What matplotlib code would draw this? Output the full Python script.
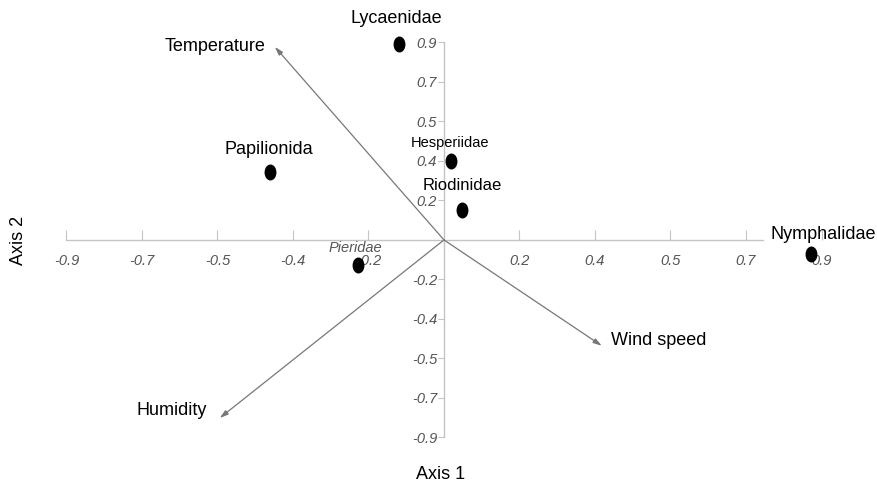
import matplotlib.pyplot as plt
from matplotlib.path import Path
from matplotlib.transforms import Affine2D

plt.rcParams['font.family'] = ['Liberation Sans', 'DejaVu Sans']

# families (site scores), in tick units
families = ["Lycaenidae", "Papilionida", "Hesperiidae", "Riodinidae", "Pieridae", "Nymphalidae"]
fam_x = [-0.60, -2.30, 0.09, 0.24, -1.14, 4.86]
fam_y = [4.96, 1.72, 2.00, 0.76, -0.63, -0.35]

# environmental vectors
variables = ["Temperature", "Wind speed", "Humidity"]
var_x = [-2.24, 2.09, -2.97]
var_y = [4.89, -2.68, -4.51]

# axis tick labels (as printed, equal spacing)
xtick_pos = [-5, -4, -3, -2, -1, 1, 2, 3, 4, 5]
xtick_lab = ["-0.9", "-0.7", "-0.5", "-0.4", "-0.2", "0.2", "0.4", "0.5", "0.7", "0.9"]
ytick_pos = [-5, -4, -3, -2, -1, 1, 2, 3, 4, 5]
ytick_lab = ["-0.9", "-0.7", "-0.5", "-0.4", "-0.2", "0.2", "0.4", "0.5", "0.7", "0.9"]

fig = plt.figure(figsize=(8.77, 4.84), dpi=100)
ax = fig.add_axes([0, 0, 1, 1])
ax.set_xlim(-5.88, 5.735)
ax.set_ylim(-6.18, 6.076)

# axes through the origin
for side in ["top", "right"]:
    ax.spines[side].set_visible(False)
ax.spines["left"].set_position(("data", 0))
ax.spines["bottom"].set_position(("data", 0))
ax.spines["bottom"].set_bounds(-5, 4.23)
ax.spines["left"].set_bounds(-5, 5)
for side in ["left", "bottom"]:
    ax.spines[side].set_color("#c4c4c4")
    ax.spines[side].set_linewidth(1.0)

ax.set_xticks(xtick_pos)
ax.set_xticklabels(xtick_lab)
ax.set_yticks(ytick_pos)
ax.set_yticklabels(ytick_lab)
ax.tick_params(axis="x", direction="in", length=7, color="#c4c4c4", labelcolor="#555555",
               labelsize=10.5, pad=10)
ax.tick_params(axis="y", direction="out", length=4, color="#c4c4c4", labelcolor="#555555",
               labelsize=10.5, pad=1)
for lab in ax.get_xticklabels() + ax.get_yticklabels():
    lab.set_fontstyle("italic")

# arrows
for name, vx, vy in zip(variables, var_x, var_y):
    ax.annotate("", xy=(vx, vy), xytext=(0, 0),
                arrowprops=dict(arrowstyle="-|>,head_length=0.5,head_width=0.15",
                                color="#777777", lw=0.9, shrinkA=0, shrinkB=0))

ax.text(var_x[0] - 0.13, var_y[0], variables[0], ha="right", va="center", fontsize=13)
ax.text(var_x[1] + 0.12, var_y[1] + 0.13, variables[1], ha="left", va="center", fontsize=13)
ax.text(var_x[2] - 0.17, var_y[2] + 0.18, variables[2], ha="right", va="center", fontsize=13)

# family points as upright ellipses
ell = Path.unit_circle().transformed(Affine2D().scale(0.72, 1.0))
ax.scatter(fam_x, fam_y, marker=ell, s=110, color="black", zorder=5)

ax.text(-0.63, 5.6, "Lycaenidae", ha="center", va="center", fontsize=13)
ax.text(-2.32, 2.28, "Papilionida", ha="center", va="center", fontsize=13)
ax.text(0.08, 2.45, "Hesperiidae", ha="center", va="center", fontsize=10.5)
ax.text(0.24, 1.37, "Riodinidae", ha="center", va="center", fontsize=12)
ax.text(-1.18, -0.2, "Pieridae", ha="center", va="center", fontsize=10.5,
        color="#555555", fontstyle="italic")
ax.text(4.33, 0.15, "Nymphalidae", ha="left", va="center", fontsize=13)

ax.text(-5.64, 0, "Axis 2", rotation=90, ha="center", va="center", fontsize=13)
ax.text(-0.05, -5.95, "Axis 1", ha="center", va="center", fontsize=13)

fig.savefig("out.png", dpi=100)
